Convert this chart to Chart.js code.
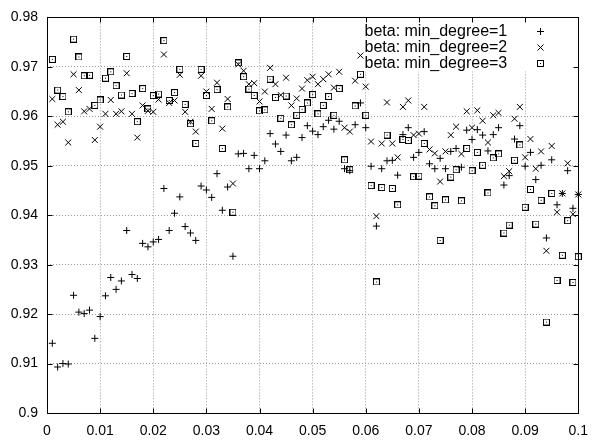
<!DOCTYPE html>
<html>
<head>
<meta charset="utf-8">
<script src="https://cdn.jsdelivr.net/npm/chart.js@4.4.1/dist/chart.umd.min.js"></script>
<style>
  html, body { margin: 0; padding: 0; background: #fff; }
  canvas { display: block; }
</style>
</head>
<body>
<canvas id="betaChart" width="598" height="441"></canvas>
<script>
"use strict";

/*----------------------------------------*/
/*  data
/*----------------------------------------*/
const xValues = [
  0.001, 0.002, 0.003, 0.004, 0.005, 0.006, 0.007, 0.008, 0.009, 0.010,
  0.011, 0.012, 0.013, 0.014, 0.015, 0.016, 0.017, 0.018, 0.019, 0.020,
  0.021, 0.022, 0.023, 0.024, 0.025, 0.026, 0.027, 0.028, 0.029, 0.030,
  0.031, 0.032, 0.033, 0.034, 0.035, 0.036, 0.037, 0.038, 0.039, 0.040,
  0.041, 0.042, 0.043, 0.044, 0.045, 0.046, 0.047, 0.048, 0.049, 0.050,
  0.051, 0.052, 0.053, 0.054, 0.055, 0.056, 0.057, 0.058, 0.059, 0.060,
  0.061, 0.062, 0.063, 0.064, 0.065, 0.066, 0.067, 0.068, 0.069, 0.070,
  0.071, 0.072, 0.073, 0.074, 0.075, 0.076, 0.077, 0.078, 0.079, 0.080,
  0.081, 0.082, 0.083, 0.084, 0.085, 0.086, 0.087, 0.088, 0.089, 0.090,
  0.091, 0.092, 0.093, 0.094, 0.095, 0.096, 0.097, 0.098, 0.099, 0.100
];

const minDegree1 = [
  0.9141, 0.9093, 0.9100, 0.9099, 0.9238, 0.9204, 0.9201, 0.9208, 0.9151, 0.9195,
  0.9237, 0.9274, 0.9250, 0.9267, 0.9369, 0.9280, 0.9272, 0.9343, 0.9336, 0.9346,
  0.9351, 0.9454, 0.9369, 0.9404, 0.9437, 0.9377, 0.9364, 0.9349, 0.9459, 0.9451,
  0.9436, 0.9484, 0.9410, 0.9457, 0.9317, 0.9524, 0.9525, 0.9494, 0.9521, 0.9494,
  0.9510, 0.9565, 0.9544, 0.9529, 0.9562, 0.9510, 0.9517, 0.9557, 0.9581, 0.9570,
  0.9563, 0.9579, 0.9592, 0.9574, 0.9590, 0.9494, 0.9490, 0.9583, 0.9627, 0.9577,
  0.9499, 0.9378, 0.9494, 0.9510, 0.9511, 0.9481, 0.9563, 0.9577, 0.9517, 0.9527,
  0.9569, 0.9504, 0.9494, 0.9515, 0.9494, 0.9529, 0.9535, 0.9497, 0.9572, 0.9553,
  0.9573, 0.9562, 0.9530, 0.9563, 0.9577, 0.9461, 0.9480, 0.9554, 0.9581, 0.9499,
  0.9527, 0.9472, 0.9501, 0.9354, 0.9512, 0.9421, 0.9444, 0.9490, 0.9414, 0.9442
];

const minDegree2 = [
  0.9635, 0.9583, 0.9589, 0.9547, 0.9685, 0.9653, 0.9610, 0.9615, 0.9552, 0.9579,
  0.9605, 0.9633, 0.9605, 0.9610, 0.9687, 0.9605, 0.9557, 0.9622, 0.9611, 0.9609,
  0.9634, 0.9725, 0.9627, 0.9632, 0.9684, 0.9609, 0.9589, 0.9569, 0.9682, 0.9650,
  0.9615, 0.9668, 0.9575, 0.9635, 0.9464, 0.9705, 0.9692, 0.9665, 0.9667, 0.9630,
  0.9650, 0.9698, 0.9665, 0.9643, 0.9678, 0.9622, 0.9636, 0.9656, 0.9673, 0.9680,
  0.9665, 0.9675, 0.9685, 0.9658, 0.9690, 0.9577, 0.9569, 0.9672, 0.9723, 0.9660,
  0.9549, 0.9398, 0.9545, 0.9628, 0.9545, 0.9517, 0.9619, 0.9632, 0.9562, 0.9565,
  0.9619, 0.9533, 0.9525, 0.9468, 0.9529, 0.9562, 0.9579, 0.9524, 0.9610, 0.9577,
  0.9612, 0.9591, 0.9547, 0.9602, 0.9607, 0.9479, 0.9489, 0.9595, 0.9619, 0.9517,
  0.9554, 0.9494, 0.9529, 0.9328, 0.9540, 0.9406, 0.9444, 0.9505, 0.9402, 0.9442
];

const minDegree3 = [
  0.9715, 0.9653, 0.9640, 0.9609, 0.9756, 0.9720, 0.9682, 0.9683, 0.9622, 0.9633,
  0.9677, 0.9690, 0.9662, 0.9643, 0.9721, 0.9646, 0.9589, 0.9656, 0.9615, 0.9642,
  0.9645, 0.9753, 0.9632, 0.9648, 0.9695, 0.9624, 0.9585, 0.9545, 0.9695, 0.9642,
  0.9591, 0.9654, 0.9535, 0.9619, 0.9406, 0.9708, 0.9680, 0.9655, 0.9642, 0.9611,
  0.9613, 0.9675, 0.9638, 0.9596, 0.9641, 0.9583, 0.9602, 0.9614, 0.9627, 0.9644,
  0.9605, 0.9622, 0.9640, 0.9602, 0.9656, 0.9512, 0.9492, 0.9621, 0.9685, 0.9602,
  0.9460, 0.9265, 0.9456, 0.9562, 0.9454, 0.9421, 0.9553, 0.9551, 0.9478, 0.9479,
  0.9545, 0.9437, 0.9419, 0.9349, 0.9431, 0.9477, 0.9492, 0.9429, 0.9535, 0.9490,
  0.9527, 0.9501, 0.9445, 0.9516, 0.9524, 0.9364, 0.9380, 0.9511, 0.9542, 0.9416,
  0.9452, 0.9382, 0.9430, 0.9184, 0.9444, 0.9268, 0.9319, 0.9389, 0.9264, 0.9316
];

const seriesLabels = ["beta: min_degree=1", "beta: min_degree=2", "beta: min_degree=3"];
const xTickValues = [0, 0.01, 0.02, 0.03, 0.04, 0.05, 0.06, 0.07, 0.08, 0.09, 0.1];
const yTickValues = [0.9, 0.91, 0.92, 0.93, 0.94, 0.95, 0.96, 0.97, 0.98];

/*----------------------------------------*/
/*  markers
/*----------------------------------------*/
function boxDot() {
    const c = document.createElement("canvas");
    c.width = 7;
    c.height = 7;
    const g = c.getContext("2d");
    g.strokeStyle = "#000";
    g.lineWidth = 1;
    g.strokeRect(0.5, 0.5, 6, 6);
    g.fillStyle = "#000";
    g.fillRect(3, 3, 1, 1);
    return c;
}
const boxMarker = boxDot();

function toPoints(ys) {
    return ys.map((y, i) => ({ x: xValues[i], y: y }));
}

function drawMarker(ctx, kind, x, y) {
    ctx.beginPath();
    if (kind === 0) {
        ctx.moveTo(x - 3.5, y); ctx.lineTo(x + 3.5, y);
        ctx.moveTo(x, y - 3.5); ctx.lineTo(x, y + 3.5);
        ctx.stroke();
    } else if (kind === 1) {
        ctx.moveTo(x - 3, y - 3); ctx.lineTo(x + 3, y + 3);
        ctx.moveTo(x - 3, y + 3); ctx.lineTo(x + 3, y - 3);
        ctx.stroke();
    } else {
        ctx.drawImage(boxMarker, Math.round(x - 3.5), Math.round(y - 3.5));
    }
}

/*----------------------------------------*/
/*  gnuplot look: key box, frame, inner ticks
/*----------------------------------------*/
const gnuplotFrame = {
    id: "gnuplotFrame",
    beforeDatasetsDraw(chart) {
        const a = chart.chartArea;
        const ctx = chart.ctx;
        ctx.save();
        ctx.fillStyle = "#fff";
        ctx.fillRect(a.right - 246, a.top + 1, 245, 53);
        ctx.restore();
    },
    afterDraw(chart) {
        const a = chart.chartArea;
        const ctx = chart.ctx;
        const sx = chart.scales.x;
        const sy = chart.scales.y;
        const l = Math.round(a.left) + 0.5, r = Math.round(a.right) + 0.5;
        const t = Math.round(a.top) + 0.5, b = Math.round(a.bottom) + 0.5;
        ctx.save();
        ctx.strokeStyle = "#000";
        ctx.lineWidth = 1;
        ctx.strokeRect(l, t, r - l, b - t);
        ctx.beginPath();
        xTickValues.forEach(v => {
            const px = Math.round(sx.getPixelForValue(v)) + 0.5;
            ctx.moveTo(px, b); ctx.lineTo(px, b - 5);
            ctx.moveTo(px, t); ctx.lineTo(px, t + 5);
        });
        yTickValues.forEach(v => {
            const py = Math.round(sy.getPixelForValue(v)) + 0.5;
            ctx.moveTo(l, py); ctx.lineTo(l + 5, py);
            ctx.moveTo(r, py); ctx.lineTo(r - 5, py);
        });
        ctx.stroke();

        // key
        ctx.font = '16px "Liberation Sans", Arial, sans-serif';
        ctx.fillStyle = "#000";
        ctx.textAlign = "right";
        ctx.textBaseline = "middle";
        seriesLabels.forEach((label, k) => {
            const ky = a.top + 14 + k * 16;
            ctx.fillText(label, a.right - 71, ky);
            drawMarker(ctx, k, Math.round(a.right - 38) + 0.5, Math.round(ky) + 0.5);
        });
        ctx.restore();
    }
};

/*----------------------------------------*/
/*  scatter chart
/*----------------------------------------*/
Chart.defaults.font.family = '"Liberation Sans", Arial, sans-serif';
Chart.defaults.font.size = 14;
Chart.defaults.color = "#000";

const pointBase = {
    showLine: false,
    borderColor: "#000",
    backgroundColor: "rgba(0,0,0,0)",
    pointBorderWidth: 1,
    pointHoverRadius: 0,
    clip: false
};

new Chart(document.getElementById("betaChart"), {
    type: "scatter",
    data: {
        datasets: [
            Object.assign({}, pointBase, {
                label: seriesLabels[0],
                data: toPoints(minDegree1),
                pointStyle: "cross",
                pointRadius: 3.5
            }),
            Object.assign({}, pointBase, {
                label: seriesLabels[1],
                data: toPoints(minDegree2),
                pointStyle: "crossRot",
                pointRadius: 4.2
            }),
            Object.assign({}, pointBase, {
                label: seriesLabels[2],
                data: toPoints(minDegree3),
                pointStyle: boxMarker,
                pointRadius: 3.5
            })
        ]
    },
    options: {
        responsive: false,
        animation: false,
        events: [],
        layout: { padding: { top: 12, right: 10, left: 0, bottom: 0 } },
        plugins: {
            legend: { display: false },
            tooltip: { enabled: false }
        },
        scales: {
            x: {
                type: "linear",
                min: 0,
                max: 0.1,
                afterBuildTicks: s => { s.ticks = xTickValues.map(v => ({ value: v })); },
                afterFit: s => { s.height = 28; },
                ticks: { padding: 10, maxRotation: 0, autoSkip: false, callback: v => String(v) },
                grid: { color: "#9a9a9a", drawTicks: false },
                border: { display: false, dash: [1, 2] }
            },
            y: {
                type: "linear",
                min: 0.9,
                max: 0.98,
                afterBuildTicks: s => { s.ticks = yTickValues.map(v => ({ value: v })); },
                afterFit: s => { s.width = 47; },
                ticks: { padding: 9, autoSkip: false, callback: v => String(v) },
                grid: { color: "#9a9a9a", drawTicks: false },
                border: { display: false, dash: [1, 2] }
            }
        }
    },
    plugins: [gnuplotFrame]
});
</script>
</body>
</html>
